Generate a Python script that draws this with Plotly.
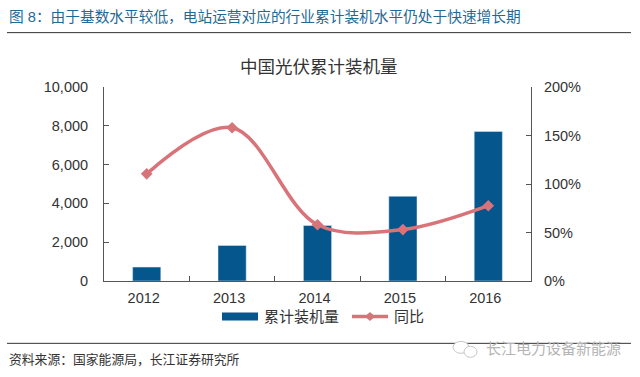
import plotly.graph_objects as go

years = ["2012", "2013", "2014", "2015", "2016"]
capacity = [720, 1835, 2860, 4370, 7710]
yoy = [110.5, 158, 58, 53, 77.6]
y_ticks = [0, 2000, 4000, 6000, 8000, 10000]
y2_ticks = [0, 50, 100, 150, 200]
y2_labels = ["0%", "50%", "100%", "150%", "200%"]

FONT = "Liberation Sans, Noto Sans CJK SC, sans-serif"
W, H = 640, 377
L, R, T, B = 104, 531, 87, 281.5
def px(x): return (x - L) / (R - L)
def py(y): return (B - y) / (B - T)

BAR = "#04568c"
LINE = "#d9737a"

fig = go.Figure()
fig.add_bar(x=years, y=capacity, name="累计装机量", marker_color=BAR, width=0.33, yaxis="y", showlegend=False)
fig.add_scatter(x=years, y=yoy, name="同比", yaxis="y2", mode="lines+markers", showlegend=False,
                line=dict(color=LINE, width=3.5, shape="spline", smoothing=1.0),
                marker=dict(symbol="diamond", size=9, color=LINE))

axis_line = dict(showline=True, linecolor="#555555", linewidth=1, ticks="inside", ticklen=5,
                 tickcolor="#555555", showgrid=False, zeroline=False)

def rule(y):
    return dict(type="line", xref="paper", yref="paper", x0=px(7), x1=px(631), y0=py(y), y1=py(y),
                line=dict(color="#333333", width=1))

def circle(x0, x1, y0, y1):
    return dict(type="circle", xref="paper", yref="paper", x0=px(x0), x1=px(x1), y0=py(y0), y1=py(y1),
                line=dict(color="#c8c8c8", width=1), fillcolor="white")

def note(text, x, y, size, color, anchor="left"):
    return dict(text=text, xref="paper", yref="paper", x=px(x), y=py(y), xanchor=anchor, yanchor="middle",
                showarrow=False, font=dict(size=size, color=color))

fig.update_layout(
    width=W, height=H, autosize=False, paper_bgcolor="white", plot_bgcolor="white",
    margin=dict(l=L, r=W - R, t=T, b=H - B, pad=0),
    font=dict(family=FONT, color="#333333", size=14.5),
    showlegend=False,
    xaxis=dict(type="category", tickson="boundaries", anchor="y", ticklabelstandoff=4, ticklabelshift=-3, **axis_line),
    yaxis=dict(range=[0, 10000], tickvals=y_ticks, tickformat=",d", anchor="x", ticklabelstandoff=12, **axis_line),
    yaxis2=dict(overlaying="y", side="right", range=[0, 200], tickvals=y2_ticks, ticktext=y2_labels,
                anchor="x", ticklabelstandoff=9, **axis_line),
    shapes=[
        rule(32.5), rule(344),
        circle(453, 469, 342, 354), circle(464, 477, 347, 358),
        dict(type="rect", xref="paper", yref="paper", x0=px(222), x1=px(258), y0=py(321), y1=py(313),
             fillcolor=BAR, line=dict(width=0)),
        dict(type="line", xref="paper", yref="paper", x0=px(352), x1=px(388), y0=py(317), y1=py(317),
             line=dict(color=LINE, width=3.5)),
        dict(type="path", xref="paper", yref="paper",
             path=f"M {px(365)} {py(317)} L {px(370)} {py(312.5)} L {px(375)} {py(317)} L {px(370)} {py(321.5)} Z",
             fillcolor=LINE, line=dict(width=0)),
    ],
    annotations=[
        note("图 8：由于基数水平较低，电站运营对应的行业累计装机水平仍处于快速增长期", 7, 16, 14.7, "#1f6a94"),
        note("中国光伏累计装机量", 319, 66.5, 17.5, "#333333", "center"),
        note("累计装机量", 262, 317, 15, "#333333"),
        note("同比", 392, 317, 15, "#333333"),
        note("资料来源：国家能源局，长江证券研究所", 7, 360, 12.8, "#333333"),
        note("长江电力设备新能源", 484, 349, 15, "#b5b5b5"),
    ],
)
fig.write_html("out.html", post_script="document.body.style.margin='0';", config={"displayModeBar": False})
